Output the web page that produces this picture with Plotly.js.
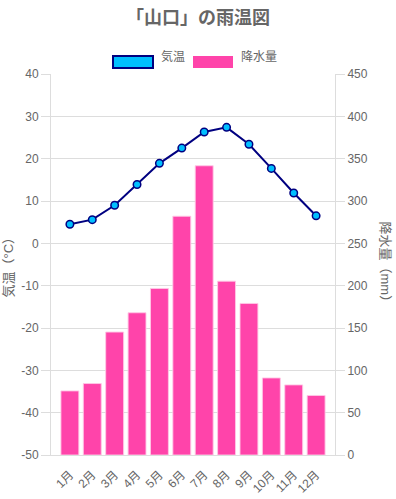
<!DOCTYPE html>
<html>
<head>
<meta charset="utf-8">
<script src="https://cdn.plot.ly/plotly-3.0.1.min.js"></script>
<style>
html,body{margin:0;padding:0;background:#fff;}
#chart{width:396px;height:499px;}
</style>
</head>
<body>
<div id="chart"></div>
<script>
const months = ["1月","2月","3月","4月","5月","6月","7月","8月","9月","10月","11月","12月"];
const temperature = [4.5, 5.6, 9.0, 13.9, 18.9, 22.5, 26.3, 27.4, 23.4, 17.7, 11.9, 6.5];
const precipitation = [75.7, 84.4, 145.2, 168.0, 196.7, 282.0, 341.6, 205.3, 179.0, 91.0, 82.8, 70.3];
const tempTicks = [-50,-40,-30,-20,-10,0,10,20,30,40];
const precipTicks = [0,50,100,150,200,250,300,350,400,450];

const FONT = "Liberation Sans, Arial, Noto Sans CJK JP, sans-serif";
const GRAY = "#666";
const GRID = "#dddddd";

const traces = [
  {
    type: "bar",
    name: "降水量",
    x: months,
    y: precipitation,
    yaxis: "y",
    marker: {color: "rgb(255,68,170)", line: {color: "rgba(255,200,230,0.9)", width: 1}},
    width: 0.8,
    showlegend: false,
    hoverinfo: "skip"
  },
  {
    type: "scatter",
    mode: "lines+markers",
    name: "気温",
    x: months,
    y: temperature,
    yaxis: "y2",
    line: {color: "#000080", width: 2},
    marker: {color: "#00bfff", size: 7.5, line: {color: "#000080", width: 1.5}},
    showlegend: false,
    hoverinfo: "skip"
  }
];

const layout = {
  width: 396,
  height: 499,
  margin: {l: 51, r: 61, t: 74, b: 44},
  paper_bgcolor: "#fff",
  plot_bgcolor: "#fff",
  font: {family: FONT, color: GRAY, size: 12},
  title: {
    text: "<b>「山口」の雨温図</b>",
    font: {family: "Liberation Sans, Arial, Noto Sans CJK JP, sans-serif", size: 18, color: GRAY},
    x: 0.5, xanchor: "center", y: 1 - 18/499, yanchor: "middle", yref: "container"
  },
  xaxis: {
    type: "category",
    tickangle: -45,
    showgrid: false,
    showline: true,
    linecolor: GRID,
    linewidth: 1,
    ticks: "outside",
    ticklen: 7,
    tickcolor: "rgba(255,255,255,0)",
    tickfont: {size: 12, color: GRAY},
    zeroline: false
  },
  yaxis: {
    side: "right",
    range: [0, 450],
    tickvals: precipTicks,
    ticktext: precipTicks.map(String),
    showgrid: true,
    gridcolor: GRID,
    gridwidth: 1,
    showline: true,
    linecolor: GRID,
    ticks: "outside",
    ticklen: 9,
    tickcolor: GRID,
    tickfont: {size: 12, color: GRAY},
    zeroline: false,
    fixedrange: true
  },
  yaxis2: {
    side: "left",
    overlaying: "y",
    range: [-50, 40],
    tickvals: tempTicks,
    ticktext: tempTicks.map(String),
    showgrid: false,
    showline: true,
    linecolor: GRID,
    ticks: "outside",
    ticklen: 9,
    tickcolor: GRID,
    tickfont: {size: 12, color: GRAY},
    zeroline: false,
    fixedrange: true
  },
  shapes: [
    {type: "rect", xref: "paper", yref: "paper", xsizemode: "pixel", ysizemode: "pixel",
     xanchor: 0, yanchor: 1, x0: 62, x1: 102, y0: 18, y1: 6,
     fillcolor: "#00bfff", line: {color: "#000080", width: 2}},
    {type: "rect", xref: "paper", yref: "paper", xsizemode: "pixel", ysizemode: "pixel",
     xanchor: 0, yanchor: 1, x0: 142, x1: 182, y0: 18, y1: 6,
     fillcolor: "rgb(255,68,170)", line: {width: 0}}
  ],
  annotations: [
    {text: "気温", xref: "paper", yref: "paper", x: (159-51)/284, y: 1 + 17/381, xanchor: "left", yanchor: "middle",
     showarrow: false, font: {size: 12, color: GRAY, family: FONT}},
    {text: "降水量", xref: "paper", yref: "paper", x: (239-51)/284, y: 1 + 17/381, xanchor: "left", yanchor: "middle",
     showarrow: false, font: {size: 12, color: GRAY, family: FONT}},
    {text: "気温（°C）", xref: "paper", yref: "paper", x: -43/284, y: 0.5, xanchor: "center", yanchor: "middle",
     textangle: -90, showarrow: false, font: {size: 13, color: GRAY, family: FONT}},
    {text: "降水量（mm）", xref: "paper", yref: "paper", x: 1 + 50/284, y: 0.5, xanchor: "center", yanchor: "middle",
     textangle: 90, showarrow: false, font: {size: 13, color: GRAY, family: FONT}}
  ],
  showlegend: false,
  bargap: 0.2
};

Plotly.newPlot("chart", traces, layout, {displayModeBar: false, staticPlot: true});
</script>
</body>
</html>
